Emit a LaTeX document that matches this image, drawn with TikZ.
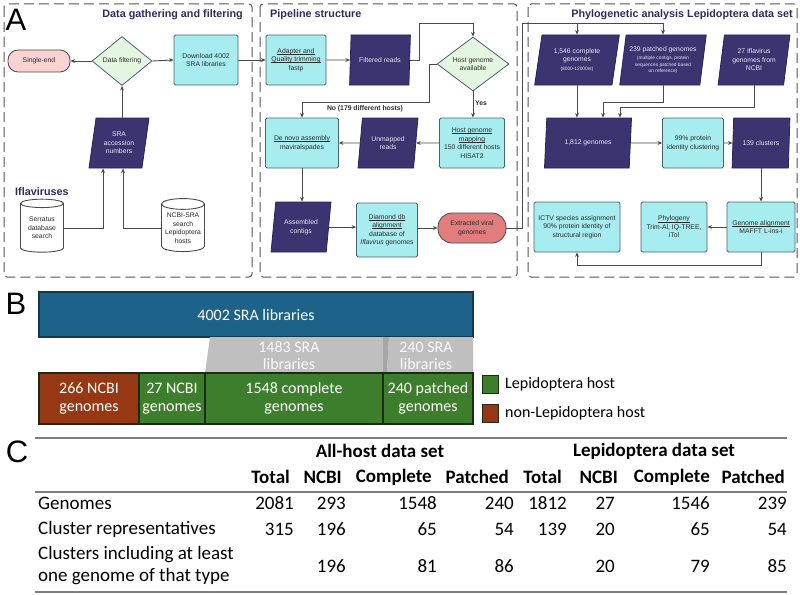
\documentclass[tikz,border=0pt]{standalone}
\usepackage{fontspec}
\setmainfont{Liberation Sans}
\newfontfamily\calf{Carlito}
\usetikzlibrary{shapes.geometric,arrows.meta,calc}
\definecolor{parf}{HTML}{3B3470}
\definecolor{pard}{HTML}{2A2555}
\definecolor{partx}{HTML}{E8E8F2}
\definecolor{cyanf}{HTML}{A7ECEF}
\definecolor{boxd}{HTML}{4C6272}
\definecolor{diaf}{HTML}{E4F6DF}
\definecolor{pinkf}{HTML}{F9D2D2}
\definecolor{salf}{HTML}{E27D7D}
\definecolor{linec}{HTML}{4A4A4A}
\definecolor{dashc}{HTML}{555555}
\definecolor{ttlc}{HTML}{2F2C5E}
\definecolor{txtc}{HTML}{2A2A2A}
\definecolor{bluef}{HTML}{1D6288}
\definecolor{blued}{HTML}{13384F}
\definecolor{brownf}{HTML}{963814}
\definecolor{greenf}{HTML}{3C7E2B}
\definecolor{greend}{HTML}{1B2B16}
\definecolor{grayf}{HTML}{BFBFBF}
\definecolor{grayd}{HTML}{A6A6A6}
\definecolor{rulec}{HTML}{7F7F7F}
\newcommand\nf{\fontsize{6.8}{8.5}\selectfont}
\newcommand\tnyf{\fontsize{4.8}{6.3}\selectfont}
\newcommand\ttf{\fontsize{10.8}{12}\selectfont\bfseries}
\newcommand\ulx[1]{\setbox0\hbox{#1}\rlap{\rule[-1.1pt]{\wd0}{0.45pt}}\box0}
\tikzset{
  bx/.style={draw=boxd, fill=cyanf, line width=0.8pt, rounded corners=1.5pt, align=center, font=\nf, text=txtc, inner sep=1pt},
  para/.style={trapezium, trapezium left angle=78, trapezium right angle=102, trapezium stretches=true, draw=pard, fill=parf, line width=0.8pt, text=partx, align=center, font=\nf, inner sep=0pt},
  dia/.style={diamond, draw=boxd, fill=diaf, line width=0.8pt, align=center, font=\nf, text=txtc, inner sep=0pt},
  pill/.style={rectangle, draw=linec, line width=0.8pt, align=center, font=\nf, text=txtc},
  cyl/.style={cylinder, shape border rotate=90, aspect=0.3, draw=linec, fill=white, line width=0.9pt, align=center, font=\nf, text=txtc, inner sep=0pt},
  arr/.style={draw=linec, line width=0.9pt, -{Stealth[length=4.5pt,width=3.8pt]}},
  ln/.style={draw=linec, line width=0.9pt},
  panel/.style={draw=dashc, dash pattern=on 10pt off 5pt, line width=1pt, rounded corners=3pt},
  ttl/.style={font=\ttf, text=ttlc, inner sep=0pt},
  lbl/.style={font=\nf\bfseries, text=txtc, inner sep=0pt},
  big/.style={font=\fontsize{31}{31}\selectfont, inner sep=0pt},
  bbar/.style={draw=greend, line width=1.3pt, text=white, align=center, font=\calf\fontsize{16}{18}\selectfont, inner sep=0pt},
  graytx/.style={text=white!95!gray, align=center, font=\calf\fontsize{16}{17}\selectfont, inner sep=0pt},
  legt/.style={font=\calf\fontsize{16}{18}\selectfont, inner sep=0pt, anchor=west},
  tb/.style={font=\calf\fontsize{19}{22}\selectfont, inner sep=0pt},
  tbb/.style={font=\calf\fontsize{19}{22}\selectfont\bfseries, inner sep=0pt},
}
\begin{document}
\begin{tikzpicture}[x=1pt,y=-1pt]
\useasboundingbox[fill=white] (0,0) rectangle (800,594);

% ---------------- Panel A ----------------
\draw[panel] (4,4) rectangle (252,277);
\draw[panel] (260,4) rectangle (517,277);
\draw[panel] (528,4) rectangle (797,277);
\node[big] (labA) at (16,20) {A};
\node[ttl, anchor=east] (t1) at (243,15) {Data gathering and filtering};
\node[ttl, anchor=west] (t2) at (270,15) {Pipeline structure};
\node[ttl, anchor=east] (t3) at (793,15) {Phylogenetic analysis Lepidoptera data set};
\node[ttl, anchor=west] (ifl) at (15,192) {Iflaviruses};

% box 1
\node[pill, fill=pinkf, rounded corners=10pt, minimum width=62pt, minimum height=22pt] (single) at (39,61) {Single-end};
\node[dia, aspect=1.22, minimum width=60pt, minimum height=49pt] (filt) at (122,61) {Data filtering};
\node[bx, minimum width=64pt, minimum height=50pt] (dl) at (206,60) {Download 4002\\SRA libraries};
\node[para, minimum width=60pt, minimum height=50pt] (sra) at (119,143) {SRA\\accession\\numbers};
\node[cyl, minimum width=43pt, minimum height=53pt] (serr) at (42,228) {Serratus\\database\\search};
\node[cyl, minimum width=43pt, minimum height=53pt] (ncbi) at (183,228) {NCBI-SRA\\search\\Lepidoptera\\hosts};

\draw[arr] (filt.west) -- (single.east);
\draw[arr] (filt.east) -- (dl.west);
\draw[arr] (filt.south |- sra.north) -- (filt.south);
\draw[arr] (serr.east) -| ($(sra.south)+(-16,0)$);
\draw[arr] (ncbi.west) -| ($(sra.south)+(4,0)$);

% box 2
\node[bx, minimum width=60pt, minimum height=50pt] (adapt) at (296,60) {\ulx{Adapter and}\\\ulx{Quality trimming}\\fastp};
\node[para, minimum width=61pt, minimum height=50pt] (filtr) at (380,60) {Filtered reads};
\node[dia, aspect=1.33, minimum width=72pt, minimum height=54pt] (host) at (473,64) {Host genome\\available};
\node[bx, minimum width=65pt, minimum height=50pt] (hmap) at (472,143) {\ulx{Host genome}\\\ulx{mapping}\\150 different hosts\\HISAT2};
\node[para, minimum width=60pt, minimum height=50pt] (unm) at (388,143) {Unmapped\\reads};
\node[bx, minimum width=73pt, minimum height=50pt] (denovo) at (302,143) {\ulx{De novo assembly}\\maviralspades};
\node[para, minimum width=60pt, minimum height=50pt] (asm) at (301,227) {Assembled\\contigs};
\node[bx, minimum width=61pt, minimum height=54pt] (dmd) at (387,230) {\ulx{Diamond db}\\\ulx{alignment}\\database of\\\textit{Iflavirus} genomes};
\node[pill, fill=salf, rounded corners=14pt, minimum width=68pt, minimum height=30pt] (ext) at (472,228) {Extracted viral\\genomes};

\draw[arr] (dl.east) -- (adapt.west);
\draw[arr] (adapt.east) -- (filtr.west);
\draw[arr] (filtr.east) -- ++(9,0) |- ($(host.north)+(0,-13)$) -- (host.north);
\draw[arr] (host.west) -- ++(-7,0) |- ($(denovo.north)+(0,-15)$) -- (denovo.north);
\node[lbl] (nolab) at (365,108.5) {No (179 different hosts)};
\draw[arr] (host.south) -- (host.south |- hmap.north);
\node[lbl] (yes) at (481,103) {Yes};
\draw[arr] (hmap.west) -- (unm.east);
\draw[arr] (unm.west) -- (denovo.east);
\draw[arr] (denovo.south) -- (denovo.south |- asm.north);
\draw[arr] (asm.east) -- (asm.east -| dmd.west);
\draw[arr] (ext.west -| dmd.east) -- (ext.west);

% box 3
\node[para, minimum width=85pt, minimum height=50pt] (c1546) at (577,60) {1,546 complete\\genomes\\{\tnyf (8000-12000nt)}};
\node[para, minimum width=87pt, minimum height=50pt] (p239) at (663,60) {239 patched genomes\\{\tnyf (multiple contigs, protein}\\[-2pt]{\tnyf sequences patched based}\\[-2pt]{\tnyf on reference)}};
\node[para, minimum width=72pt, minimum height=50pt] (n27) at (754,60) {27 Iflavirus\\genomes from\\NCBI};
\node[para, minimum width=87pt, minimum height=50pt] (g1812) at (588,143) {1,812 genomes};
\node[bx, minimum width=61pt, minimum height=50pt] (clus) at (693,143) {99\% protein\\identity clustering};
\node[para, minimum width=58pt, minimum height=50pt] (c139) at (761,143) {139 clusters};
\node[bx, minimum width=68pt, minimum height=50pt] (galign) at (761,227) {\ulx{Genome alignment}\\MAFFT L-ins-i};
\node[bx, minimum width=66pt, minimum height=50pt] (phylo) at (674,227) {\ulx{Phylogeny}\\Trim-Al, IQ-TREE,\\iTol};
\node[bx, minimum width=86pt, minimum height=50pt] (ictv) at (577,227) {ICTV species assignment\\90\% protein identity of\\structural region};

\coordinate (topj) at (522,23);
\draw[ln] (ext.east) -| (topj);
\draw[arr] (topj) -| (p239.north);
\draw[arr] (topj -| c1546.north) -- (c1546.north);
\draw[arr] (c1546.south) -- (c1546.south |- g1812.north);
\draw[arr] (p239.south) -- ++(0,17) -| ($(g1812.north)+(15,0)$);
\draw[arr] (n27.south) -- ++(0,22) -| ($(g1812.north)+(32,0)$);
\draw[arr] (g1812.east) -- (clus.west);
\draw[arr] (clus.east) -- (c139.west);
\draw[arr] (c139.south) -- (c139.south |- galign.north);
\draw[arr] (galign.west) -- (phylo.east);
\draw[arr] (galign.south) -- ++(0,13) -| (ictv.south);

% ---------------- Panel B ----------------
\node[big] (labB) at (16,304) {B};
\node[bbar, draw=blued, fill=bluef, minimum width=434pt, minimum height=45pt] (b4002) at (256,314.5) {4002 SRA libraries};
\fill[grayf] (210,337) -- (383,337) -- (383,373) -- (205,373) -- cycle;
\fill[grayf] (389,337) -- (473,337) -- (473,373) -- (387,373) -- cycle;
\fill[grayd] (383,337) -- (389,337) -- (387,373) -- (383,373) -- cycle;
\node[graytx] (g1483) at (289,356) {1483 SRA\\libraries};
\node[graytx] (g240) at (426,356) {240 SRA\\libraries};
\node[bbar, fill=brownf, minimum width=100pt, minimum height=51pt] (b266) at (89,398.5) {266 NCBI\\genomes};
\node[bbar, fill=greenf, minimum width=66pt, minimum height=51pt] (b27) at (172,398.5) {27 NCBI\\genomes};
\node[bbar, fill=greenf, minimum width=178pt, minimum height=51pt] (b1548) at (294,398.5) {1548 complete\\genomes};
\node[bbar, fill=greenf, minimum width=90pt, minimum height=51pt] (b240) at (428,398.5) {240 patched\\genomes};
\node[draw=greend, line width=1pt, fill=greenf, minimum width=16pt, minimum height=18pt, inner sep=0pt] (lg1) at (490,384) {};
\node[draw=greend, line width=1pt, fill=brownf, minimum width=16pt, minimum height=18pt, inner sep=0pt] (lg2) at (490,413) {};
\node[legt] (lt1) at (505,384) {Lepidoptera host};
\node[legt] (lt2) at (505,413) {non-Lepidoptera host};

% ---------------- Panel C ----------------
\node[big] (labC) at (17,452) {C};
\draw[rulec, line width=1.2pt] (35,438) -- (787,438);
\draw[rulec, line width=1.2pt] (35,492) -- (787,492);
\draw[rulec, line width=1.8pt] (35,592) -- (787,592);
\node[tbb] (hAll) at (380,451) {All-host data set};
\node[tbb] (hLep) at (654,451) {Lepidoptera data set};
\foreach \xx/\hh [count=\i] in {290/Total,342/NCBI,432/Complete,509/Patched,562/Total,618/NCBI,710/Complete,785/Patched}{
  \node[tbb, anchor=east] (h\i) at (\xx,477) {\hh};
}
\node[tb, anchor=west] (rl1) at (38,503) {Genomes};
\node[tb, anchor=west] (rl2) at (38,529) {Cluster representatives};
\node[tb, anchor=west, align=left] (rl3) at (38,566) {Clusters including at least\\one genome of that type};
\foreach \xx/\a/\b/\c [count=\i] in {294/2081/315/{},346/293/196/196,437/1548/65/81,514/240/54/86,567/1812/139/{},615/27/20/20,710/1546/65/79,787/239/54/85}{
  \node[tb, anchor=east] (ra\i) at (\xx,503) {\a};
  \node[tb, anchor=east] (rb\i) at (\xx,529) {\b};
  \node[tb, anchor=east] (rc\i) at (\xx,566) {\c};
}
\end{tikzpicture}
\end{document}
